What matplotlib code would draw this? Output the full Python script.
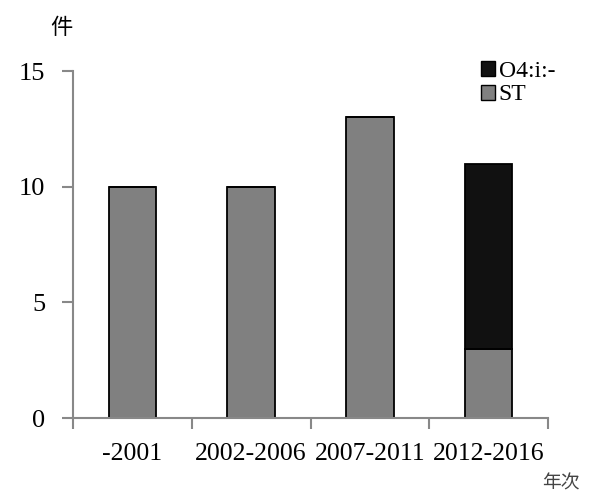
import matplotlib
matplotlib.use("Agg")
import matplotlib.pyplot as plt
from matplotlib.patches import Patch

categories = ["-2001", "2002-2006", "2007-2011", "2012-2016"]
st_values = [10, 10, 13, 3]
o4_values = [0, 0, 0, 8]
yticks = [0, 5, 10, 15]

serif = ["Liberation Serif", "DejaVu Serif"]
cjk = ["Noto Sans CJK JP", "DejaVu Sans"]

fig = plt.figure(figsize=(5.92, 4.94), dpi=100)
ax = fig.add_axes([73/592, 1-418/494, (548-73)/592, (418-71)/494])

x = list(range(len(categories)))
ax.bar(x, st_values, width=0.40, color="#808080", edgecolor="black", linewidth=1.3, label="ST")
ax.bar(x, o4_values, width=0.40, bottom=st_values, color="#111111", edgecolor="black",
       linewidth=1.3, label="O4:i:-")

ax.set_xlim(-0.5, len(categories) - 0.5)
ax.set_ylim(0, 15)
ax.set_yticks(yticks)
ax.set_xticks([i - 0.5 for i in range(len(categories) + 1)], minor=False)
ax.set_xticklabels([])
ax.set_xticks(x, minor=True)
ax.set_xticklabels(categories, minor=True, fontfamily=serif, fontsize=18.5)
ax.tick_params(axis="x", which="minor", length=0, pad=18)
ax.tick_params(axis="x", which="major", length=8, color="#888888", width=1.5)
ax.tick_params(axis="y", length=8, color="#888888", width=1.5, pad=12)
for lab in ax.get_yticklabels():
    lab.set_fontfamily(serif)
    lab.set_fontsize(19)

for s in ["top", "right"]:
    ax.spines[s].set_visible(False)
for s in ["left", "bottom"]:
    ax.spines[s].set_color("#888888")
    ax.spines[s].set_linewidth(1.5)

handles = [Patch(facecolor="#111111", edgecolor="black", label="O4:i:-"),
           Patch(facecolor="#808080", edgecolor="black", label="ST")]
leg = ax.legend(handles=handles, loc="upper left", bbox_to_anchor=(481/592, 1-61/494),
                bbox_transform=fig.transFigure, frameon=False, handlelength=0.6,
                handleheight=0.6, handletextpad=0.15, labelspacing=0.1,
                borderaxespad=0, borderpad=0, prop={"family": serif, "size": 17})

fig.text(61/592, 1-28/494, "件", fontfamily=cjk, fontsize=16, ha="center", va="center")
fig.text(561/592, 1-483/494, "年次", fontfamily=cjk, fontsize=13.5, ha="center", va="center", color="#444444")

fig.savefig("out.png", dpi=100)
